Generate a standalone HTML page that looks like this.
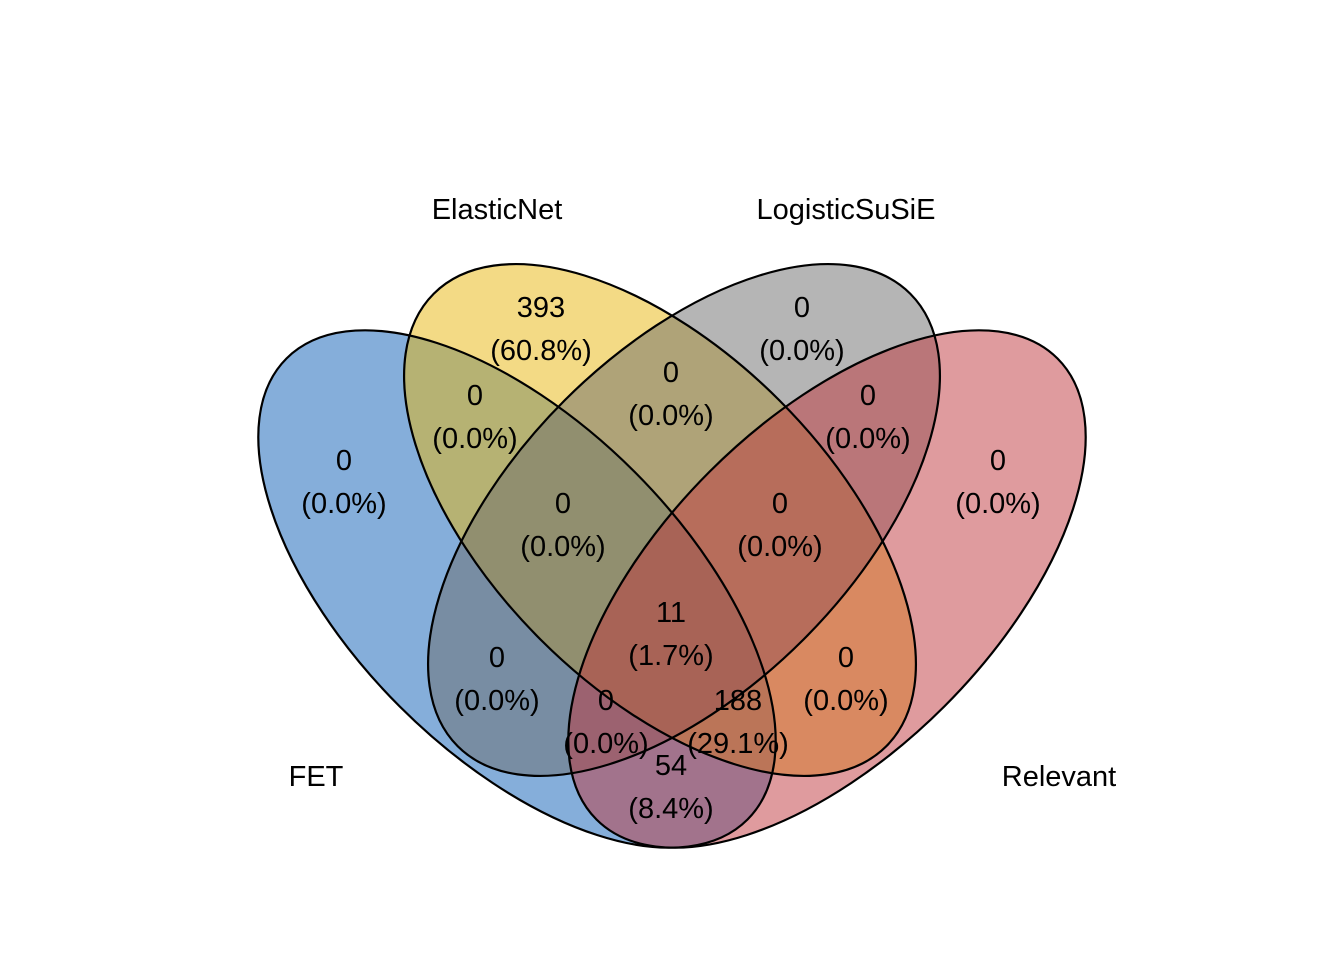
<!DOCTYPE html>
<html><head><meta charset="utf-8"><style>
html,body{margin:0;padding:0;background:#fff;}
svg{display:block;font-family:"Liberation Sans",Arial,sans-serif;}
</style></head><body>
<svg id="venn" width="1344" height="960" viewBox="0 0 1344 960">
<g id="fills"></g><g id="outlines"></g><g id="labels"></g><g id="setnames"></g>
</svg>
<script>
const setNames = ["FET","ElasticNet","LogisticSuSiE","Relevant"];
const setColors = ["#0B5DB5","#E7B50B","#6B6B6B","#BF373D"];
const regionCounts = [0,393,0,0, 0,0,0,0, 0,0,0,0, 11,0,188,54];
const regionPcts = ["(0.0%)","(60.8%)","(0.0%)","(0.0%)","(0.0%)","(0.0%)","(0.0%)","(0.0%)","(0.0%)","(0.0%)","(0.0%)","(0.0%)","(1.7%)","(0.0%)","(29.1%)","(8.4%)"];
const regionIds = ["fet-only","elasticnet-only","logisticsusie-only","relevant-only","fet-elasticnet","elasticnet-logisticsusie","logisticsusie-relevant","fet-elasticnet-logisticsusie","fet-logisticsusie","elasticnet-relevant","fet-logisticsusie-relevant","elasticnet-logisticsusie-relevant","all-four","fet-relevant-b","fet-elasticnet-relevant","fet-relevant"];
// geometry (not data)
const ellipses = [
 {cx:517,cy:589,rx:326,ry:166,rot:45},
 {cx:660,cy:520,rx:320,ry:169,rot:45},
 {cx:684,cy:520,rx:320,ry:169,rot:-45},
 {cx:827,cy:589,rx:326,ry:166,rot:-45}];
const labelPos = [[344,460],[541,307],[802,307],[998,460],[475,395],[671,372],[868,395],[563,503],[497,657],[846,657],[606,700],[780,503],[671,612],[606,700],[738,700],[671,765]];
const namePos = [[316,776],[497,209],[846,209],[1059,776]];
const NS="http://www.w3.org/2000/svg";
const fills=document.getElementById('fills'),outl=document.getElementById('outlines'),labs=document.getElementById('labels'),names=document.getElementById('setnames');
ellipses.forEach((e,i)=>{
 const f=document.createElementNS(NS,'ellipse');
 
 
 f.setAttribute('cx',e.cx);f.setAttribute('cy',e.cy);f.setAttribute('rx',e.rx);f.setAttribute('ry',e.ry);
 f.setAttribute('transform',`rotate(${e.rot} ${e.cx} ${e.cy})`);
 f.setAttribute('fill',setColors[i]);f.setAttribute('fill-opacity','0.5');
 fills.appendChild(f);
 const o=f.cloneNode();
 
 
 o.setAttribute('fill','none');o.setAttribute('stroke','#000');o.setAttribute('stroke-width','2.2');
 outl.appendChild(o);
});
const order=[0,1,2,3,4,5,6,7,8,9,11,12,14,15,10];
order.forEach(k=>{
 const p=labelPos[k];
 const t=document.createElementNS(NS,'text');
 
 
 t.setAttribute('x',p[0]);t.setAttribute('y',p[1]+10);
 t.setAttribute('text-anchor','middle');t.setAttribute('font-size','29');
 t.textContent=regionCounts[k];
 labs.appendChild(t);
 const t2=document.createElementNS(NS,'text');
 
 
 t2.setAttribute('x',p[0]);t2.setAttribute('y',p[1]+53);
 t2.setAttribute('text-anchor','middle');t2.setAttribute('font-size','29');
 t2.textContent=regionPcts[k];
 labs.appendChild(t2);
});
setNames.forEach((n,i)=>{
 const t=document.createElementNS(NS,'text');
 
 
 t.setAttribute('x',namePos[i][0]);t.setAttribute('y',namePos[i][1]+10);
 t.setAttribute('text-anchor','middle');t.setAttribute('font-size','29');
 t.textContent=n;
 names.appendChild(t);
});
</script>
</body></html>
